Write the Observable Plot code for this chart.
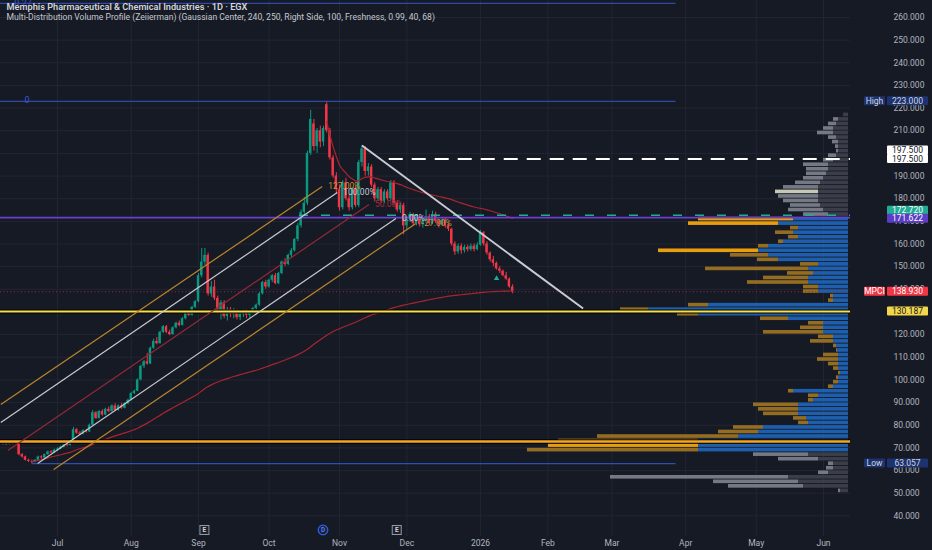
<!DOCTYPE html>
<html><head><meta charset="utf-8">
<script src="https://cdn.jsdelivr.net/npm/d3@7"></script>
<script src="https://cdn.jsdelivr.net/npm/@observablehq/plot@0.6"></script>
<style>
html,body{margin:0;padding:0;background:#161a25;overflow:hidden;}
#chart svg{display:block;}
</style></head><body><div id="chart"></div>
<script>
// ---------- DATA ----------
const title = "Memphis Pharmaceutical & Chemical Industries · 1D · EGX";
const subtitle = "Multi-Distribution Volume Profile (Zeiierman) (Gaussian Center, 240, 250, Right Side, 100, Freshness, 0.99, 40, 68)";
const firstSession = "2025-06-08", lastCalendarDay = "2026-07-01";

const open = [71.8,72.0,71.5,72.2,71.8,72.0,67.0,66.0,64.5,64.0, 63.8,64.5,66.0,65.5,67.0,68.2,67.8,69.0,69.5,70.3,
 71.2,71.0,72.5,78.0,76.5,76.0,77.5,77.0,80.0,85.5, 83.0,86.0,84.5,87.0,86.0,88.5,86.5,88.5,87.5,89.5,
 91.0,94.0,95.0,100.0,106.0,108.0,107.0,114.0,117.0,116.0, 121.0,123.5,121.0,120.0,123.0,125.0,124.0,127.0,129.5,128.5,
 132.0,134.5,146.0,152.0,155.0,138.0,141.0,136.0,130.0,134.0, 128.0,131.0,129.0,130.5,127.5,129.0,130.0,128.5,130.0,131.5,
 133.0,138.0,143.0,141.0,144.0,146.0,142.5,147.0,152.0,151.0, 155.0,157.0,162.0,168.0,174.0,178.0,200.0,213.0,203.0,210.0,
 205.0,221.5,210.0,198.0,190.0,184.0,176.0,187.0,180.0,176.0, 184.0,177.0,196.0,202.0,192.0,194.0,186.0,180.0,184.0,179.0,
 183.0,180.0,187.0,178.0,175.0,177.0,168.0,171.0,173.0,169.0, 171.5,168.5,170.0,172.0,169.0,173.0,170.0,168.5,170.5,168.0,
 166.5,160.0,156.5,159.0,157.0,158.5,157.5,159.0,157.5,159.5, 165.0,160.0,156.0,153.0,151.5,149.0,148.0,146.0,144.5,141.0];
const high = [72.6,72.5,72.8,72.6,72.5,72.2,67.5,66.4,65.0,64.6, 64.8,66.4,66.5,67.3,68.6,68.8,69.4,70.0,70.8,71.6,
 71.8,72.9,79.0,78.5,77.2,78.0,78.2,80.5,86.5,86.0, 86.5,86.8,87.5,88.0,89.0,89.5,89.0,89.6,90.0,91.5,
 94.5,95.5,100.5,106.5,108.6,111.7,114.5,118.0,118.7,121.5, 124.0,124.0,122.0,123.5,125.5,126.0,127.5,130.0,130.5,132.5,
 135.0,147.0,158.0,158.0,156.0,143.5,144.0,137.0,135.0,135.0, 132.0,132.0,131.5,131.0,130.0,131.0,131.0,130.5,132.0,133.5,
 138.5,143.5,144.0,144.5,146.5,147.0,147.5,152.5,153.5,155.5, 158.0,162.5,169.0,175.0,180.5,201.0,219.0,215.0,211.0,212.0,
 212.0,223.0,211.0,199.0,191.5,186.0,188.0,189.0,182.0,185.0, 185.5,197.0,203.5,203.0,195.5,195.0,187.0,185.0,185.0,184.0,
 184.0,188.0,188.0,179.0,178.0,178.0,172.0,174.0,173.5,172.5, 172.0,171.0,175.0,173.0,174.5,174.0,171.0,171.5,171.7,169.0,
 167.0,161.0,160.0,160.0,159.5,159.5,160.0,160.0,160.5,166.0, 165.5,161.0,156.5,154.5,152.0,150.0,148.5,147.5,145.0,142.0];
const low = [71.2,71.0,71.3,71.4,71.5,66.5,65.5,64.2,63.5,63.057, 63.4,64.2,65.0,65.2,66.7,67.4,67.5,68.6,69.2,70.0,
 70.5,70.8,72.2,76.0,75.5,75.8,76.5,76.8,79.8,82.5, 82.7,84.0,84.2,85.5,85.7,86.0,86.2,87.0,87.2,89.0,
 90.8,93.5,94.8,99.5,105.0,106.5,106.8,113.5,115.5,115.8, 120.5,120.5,119.5,119.8,122.5,123.5,123.8,126.5,128.0,128.2,
 131.5,134.0,145.0,150.5,137.0,136.5,135.0,129.0,126.5,127.0, 126.0,127.5,127.0,126.5,126.2,127.5,127.0,127.0,129.0,130.5,
 132.5,137.5,140.0,140.5,143.0,142.0,142.0,146.5,150.0,150.5, 154.0,156.5,161.0,167.0,172.0,177.0,199.0,201.0,200.0,202.5,
 203.0,209.0,197.0,189.0,182.0,174.5,175.0,179.0,174.5,175.0, 176.0,176.0,194.0,190.0,190.0,185.0,178.5,179.0,178.0,178.0,
 179.0,179.0,177.0,174.0,173.5,164.0,166.0,169.5,168.0,168.0, 167.5,167.0,169.0,168.0,168.5,169.0,167.0,168.0,167.0,165.5,
 159.0,155.0,155.5,155.5,156.0,156.5,156.8,156.5,157.0,159.0, 159.0,155.0,152.0,150.0,148.5,147.0,145.5,144.0,140.5,138.0];
const close = [72.0,71.5,72.2,71.8,72.0,67.0,66.0,64.5,64.0,63.8, 64.5,66.0,65.5,67.0,68.2,67.8,69.0,69.5,70.3,71.2,
 71.0,72.5,78.0,76.5,76.0,77.5,77.0,80.0,85.5,83.0, 86.0,84.5,87.0,86.0,88.5,86.5,88.5,87.5,89.5,91.0,
 94.0,95.0,100.0,106.0,108.0,107.0,114.0,117.0,116.0,121.0, 123.5,121.0,120.0,123.0,125.0,124.0,127.0,129.5,128.5,132.0,
 134.5,146.0,152.0,155.0,138.0,141.0,136.0,130.0,134.0,128.0, 131.0,129.0,130.5,127.5,129.0,130.0,128.5,130.0,131.5,133.0,
 138.0,143.0,141.0,144.0,146.0,142.5,147.0,152.0,151.0,155.0, 157.0,162.0,168.0,174.0,178.0,200.0,215.0,203.0,210.0,205.0,
 211.0,210.0,198.0,190.0,184.0,176.0,187.0,180.0,176.0,184.0, 177.0,196.0,202.0,192.0,194.0,186.0,180.0,184.0,179.0,183.0,
 180.0,187.0,178.0,175.0,177.0,168.0,171.0,173.0,169.0,171.5, 168.5,170.0,172.0,169.0,173.0,170.0,168.5,170.5,168.0,166.5,
 160.0,156.5,159.0,157.0,158.5,157.5,159.0,157.5,159.5,165.0, 160.0,156.0,153.0,151.5,149.0,148.0,146.0,144.5,141.0,138.93];

// price ticks
const priceTicks = d3.range(40, 261, 10);
const coveredTicks = [130, 200]; // fully hidden behind price labels in the reference

// volume profile: bin low price (2-unit bins), total volume, inner (blue/dark) volume
const vpLow = d3.range(50, 218, 2);
const vpTotal = [10,120,135,238,30,22,20,70,95, 321,300,290,251,130,115,50,55,85,90,95,40,40,60,20,15,12,10,15,20,31,25,12,15,38,30,
 85,48,40,88,171,228,160,20,18,45,45,101,85,61,143,48,91,118,190,90,70,60,73,58,160,150,
 45,60,58,65,70,73,65,53,45,42,42,45,25,20,12,13,16,20,31,25,20,15,5];
const vpInner = [8,45,50,60,20,15,15,30,40, 150,150,150,110,90,85,40,42,50,50,50,35,30,55,15,10,10,8,10,10,10,10,11,12,15,15,
 25,25,25,60,150,200,140,15,15,30,30,40,40,35,40,30,70,80,90,80,65,50,55,50,70,55,
 20,25,28,30,30,30,30,28,25,22,20,20,15,12,10,10,10,12,15,15,12,10,5];
const vpBrightBins = [70, 72, 156, 168, 170];
const vpCreamBins = [182];
const vpDistRange = [68, 172]; // distribution (blue/gold) zone; outside is gray

// key levels
const highPrice = 223.0, lowPrice = 63.057, topFibPrice = 266.2;
const lastPrice = 138.93, supportLevel = 130.187, baseLevel = 72.8;
const purpleLevel = 171.622, greenLevel = 172.72, whiteLevel = 197.5;
const greenStartBar = 92.5, whiteStartBar = 120.5, lowStartBar = 9, rayEndBar = 210;

// fib channel
const fibLabels = ["127.00%", "100.00%", "50.00%", "0.00%", "-27.00%"];
const fibStartBar = [-0.7, -0.7, 1.5, 10.8, 15.8];
const fibStartPrice = [89.1, 81.2, 68.8, 63.1, 60.4];
const fibEndBar = [99.6, 104.3, 114.2, 122.6, 128.8];
const fibEndPrice = [185.4, 182.7, 177.4, 171.3, 169.0];

// descending trendline
const trendBars = [112, 181];
const trendPrices = [203.5, 131.5];

// right-side price labels
const labelPrices = [223.0, 197.5, 197.5, 172.72, 171.622, 138.93, 130.187, 63.057];
const labelTags = ["High", "", "", "", "", "MPCI", "", "Low"];

// events
const earningsBars = [63, 123];
const dividendBars = [100];
const signalBars = [154], signalPrices = [144.8];

// ---------- STYLE / LAYOUT ----------
const FONT = "Roboto, 'Noto Sans', sans-serif";
const BG = "#161a25", UP = "#089981", DOWN = "#f23645", TXT = "#b2b5be";
const W = 932, H = 550, MR = 82, MB = 14;
const LABEL_STYLE = [
  {bg:"#1c3370", fg:"#d1d4dc", dy:0}, {bg:"#ffffff", fg:"#131722", dy:-8.5}, {bg:"#ffffff", fg:"#131722", dy:0},
  {bg:"#22ab94", fg:"#ffffff", dy:-4.5}, {bg:"#5b3cc4", fg:"#ffffff", dy:1}, {bg:"#f23645", fg:"#ffffff", dy:0},
  {bg:"#f2d64b", fg:"#131722", dy:0}, {bg:"#1c3370", fg:"#d1d4dc", dy:0}];
const FIB_COLORS = ["#b8862b", "#c9cbd1", "#8f2a34", "#c9cbd1", "#b8862b"];
const FIB_TEXT = ["#c7913a", "#c9cbd1", "#a0303c", "#c9cbd1", "#c7913a"];

// ---------- CALENDAR (Sun–Thu sessions) ----------
const sessions = d3.utcDay.range(new Date(firstSession), new Date(lastCalendarDay))
  .filter(d => d.getUTCDay() !== 5 && d.getUTCDay() !== 6);
const monthTicks = [];
sessions.forEach((d, i) => { if (i > 0 && d.getUTCMonth() !== sessions[i-1].getUTCMonth()) monthTicks.push(i); });
const monthLabel = i => sessions[i].getUTCMonth() === 0 ? String(sessions[i].getUTCFullYear()) : d3.utcFormat("%b")(sessions[i]);
const iFirst = monthTicks[0], iLast = monthTicks[monthTicks.length - 1];
const k = (823 - 57) / (iLast - iFirst);                    // px per bar
const xDomain = [iFirst - 57 / k, iFirst + (W - MR - 57) / k];
const edge = xDomain[1] - 2 / k;

// ---------- DERIVED TABLES ----------
const candles = close.map((c, i) => ({i, o: open[i], h: high[i], l: low[i], c}));
const anchored = from => { let s = 0, n = 0; return candles.slice(from).map(d => { s += (d.h + d.l + d.c) / 3; n++; return {i: d.i, v: s / n}; }); };
const lowBar = d3.minIndex(low), highBar = d3.maxIndex(high);
const vwapLow = anchored(lowBar), vwapHigh = anchored(highBar);

const vpRows = vpLow.map((p, j) => ({p, total: vpTotal[j], inner: vpInner[j],
  dist: p >= vpDistRange[0] && p < vpDistRange[1]}));
const outerColor = d => d.dist ? (vpBrightBins.includes(d.p) ? "#ffad0a" : "#a27722")
                               : (vpCreamBins.includes(d.p) ? "#d9dcc4" : "#80848f");
const innerColor = d => d.dist ? "#1f67bd" : "#3f434e";

const fibRows = fibLabels.map((t, j) => ({t, x1: fibStartBar[j], y1: fibStartPrice[j], x2: fibEndBar[j], y2: fibEndPrice[j], c: FIB_COLORS[j], tc: FIB_TEXT[j]}));

// ---------- CUSTOM RENDER MARKS ----------
function sideLabels(index, scales, values, dims) {
  const x0 = dims.width - dims.marginRight;
  const g = d3.create("svg:g").attr("font-family", FONT).attr("font-size", 8.5);
  labelPrices.forEach((p, j) => {
    const st = LABEL_STYLE[j];
    const yy = scales.y(p) + st.dy;
    g.append("rect").attr("x", x0 + 37).attr("y", yy - 4.5).attr("width", 41).attr("height", 9).attr("rx", 1).attr("fill", st.bg);
    g.append("text").attr("x", x0 + 57.5).attr("y", yy).attr("dy", "0.36em").attr("text-anchor", "middle").attr("fill", st.fg).text(p.toFixed(3));
    if (labelTags[j]) {
      g.append("rect").attr("x", x0 + 14).attr("y", yy - 4.5).attr("width", 21).attr("height", 9).attr("rx", 1).attr("fill", st.bg);
      g.append("text").attr("x", x0 + 24.5).attr("y", yy).attr("dy", "0.36em").attr("text-anchor", "middle").attr("fill", st.fg).text(labelTags[j]);
    }
  });
  return g.node();
}
function eventMarks(index, scales, values, dims) {
  const yy = dims.height - dims.marginBottom - 6;
  const g = d3.create("svg:g").attr("font-family", FONT).attr("font-size", 6.5).attr("font-weight", 700);
  earningsBars.forEach(b => {
    const x = scales.x(b);
    g.append("rect").attr("x", x - 4.5).attr("y", yy - 4.5).attr("width", 9).attr("height", 9).attr("fill", "#1e222d").attr("stroke", "#9598a1").attr("stroke-width", 1);
    g.append("text").attr("x", x).attr("y", yy).attr("dy", "0.36em").attr("text-anchor", "middle").attr("fill", "#d1d4dc").text("E");
  });
  dividendBars.forEach(b => {
    const x = scales.x(b);
    g.append("circle").attr("cx", x).attr("cy", yy).attr("r", 4.8).attr("fill", "#1e222d").attr("stroke", "#2962ff").attr("stroke-width", 1.2);
    g.append("text").attr("x", x).attr("y", yy).attr("dy", "0.36em").attr("text-anchor", "middle").attr("fill", "#4f7dff").text("D");
  });
  return g.node();
}

// ---------- PLOT ----------
const chart = Plot.plot({
  width: W, height: H, marginLeft: 0, marginRight: MR, marginTop: 0, marginBottom: MB,
  x: {domain: xDomain, axis: null},
  y: {domain: [30.86, 267.5], axis: null},
  style: {background: BG, fontFamily: FONT, overflow: "visible"},
  marks: [
    Plot.gridX(monthTicks, {stroke: "#222633", strokeOpacity: 1}),
    Plot.gridY(priceTicks, {stroke: "#222633", strokeOpacity: 1}),
    // volume profile
    Plot.rect(vpRows, {x1: d => edge - d.total / k, x2: d => edge - d.inner / k, y1: d => d.p + 0.2, y2: d => d.p + 1.8, fill: outerColor, fillOpacity: 0.9}),
    Plot.rect(vpRows, {x1: d => edge - d.inner / k, x2: d => edge, y1: d => d.p + 0.2, y2: d => d.p + 1.8, fill: innerColor, fillOpacity: 0.9}),
    // last price dotted
    Plot.ruleY([lastPrice], {stroke: "#9c2833", strokeDasharray: "1,2.5", strokeWidth: 1}),
    // candles
    Plot.ruleX(candles, {x: "i", y1: "l", y2: "h", stroke: d => d.c >= d.o ? UP : DOWN, strokeWidth: 1}),
    Plot.rect(candles, {x1: d => d.i - 0.38, x2: d => d.i + 0.38, y1: "o", y2: "c", fill: d => d.c >= d.o ? UP : DOWN}),
    // anchored averages
    Plot.line(vwapLow, {x: "i", y: "v", stroke: "#a8252f", strokeWidth: 1.2}),
    Plot.line(vwapHigh, {x: "i", y: "v", stroke: "#a8252f", strokeWidth: 1.2}),
    // blue rays
    Plot.ruleY([topFibPrice, highPrice], {x1: xDomain[0], x2: rayEndBar, stroke: "#2c4aa6", strokeWidth: 1.2}),
    Plot.ruleY([lowPrice], {x1: lowStartBar, x2: rayEndBar, stroke: "#2c4eb5", strokeWidth: 1.2}),
    Plot.text(["0.27"], {x: 3.5, y: topFibPrice, dy: 0, fill: "#3658d6", fontSize: 9, textAnchor: "start"}),
    Plot.text(["0"], {x: 7.5, y: highPrice, dy: -1, fill: "#3658d6", fontSize: 9}),
    // horizontal levels
    Plot.ruleY([purpleLevel], {stroke: "#6a3fd0", strokeWidth: 1.6}),
    Plot.ruleY([greenLevel], {x1: greenStartBar, x2: xDomain[1], stroke: "#22ab94", strokeWidth: 1.5, strokeDasharray: "9,13"}),
    Plot.ruleY([whiteLevel], {x1: whiteStartBar, x2: xDomain[1], stroke: "#ffffff", strokeWidth: 2, strokeDasharray: "14,9"}),
    Plot.ruleY([supportLevel], {stroke: "#000000", strokeWidth: 4}),
    Plot.ruleY([supportLevel], {stroke: "#f7e04b", strokeWidth: 2}),
    Plot.ruleY([baseLevel], {stroke: "#000000", strokeWidth: 4.5}),
    Plot.ruleY([baseLevel], {stroke: "#f5a623", strokeWidth: 2.5}),
    // fib channel
    Plot.link(fibRows, {x1: "x1", y1: "y1", x2: "x2", y2: "y2", stroke: "c", strokeWidth: 1.2}),
    Plot.text(fibRows, {x: "x2", y: "y2", text: "t", dx: 6, textAnchor: "start", fill: "tc", fontSize: 8.5}),
    // trendline
    Plot.link([0], {x1: () => trendBars[0], y1: () => trendPrices[0], x2: () => trendBars[1], y2: () => trendPrices[1], stroke: "#c9cbd1", strokeWidth: 2}),
    // small signal
    Plot.dot(signalBars.map((b, j) => ({b, p: signalPrices[j]})), {x: "b", y: "p", symbol: "triangle", r: 2, fill: "#22ab94"}),
    // axes
    Plot.axisY(priceTicks.filter(t => !coveredTicks.includes(t)), {anchor: "right", tickSize: 0, tickPadding: 43, textAnchor: "start", tickFormat: d3.format(".3f"), fill: TXT, fontSize: 8.5, label: null}),
    Plot.axisX(monthTicks, {anchor: "bottom", tickSize: 0, tickPadding: 3, tickFormat: monthLabel, fill: TXT, fontSize: 8.5, label: null}),
    sideLabels,
    eventMarks,
    // title
    Plot.text([title], {frameAnchor: "top-left", dx: 6, dy: 3, lineAnchor: "top", fill: "#d1d4dc", fontSize: 9.2, fontWeight: 600}),
    Plot.text([subtitle], {frameAnchor: "top-left", dx: 6, dy: 13, lineAnchor: "top", fill: "#c4c7cf", fontSize: 8.6})
  ]
});
document.getElementById("chart").appendChild(chart);
</script>
</body></html>
